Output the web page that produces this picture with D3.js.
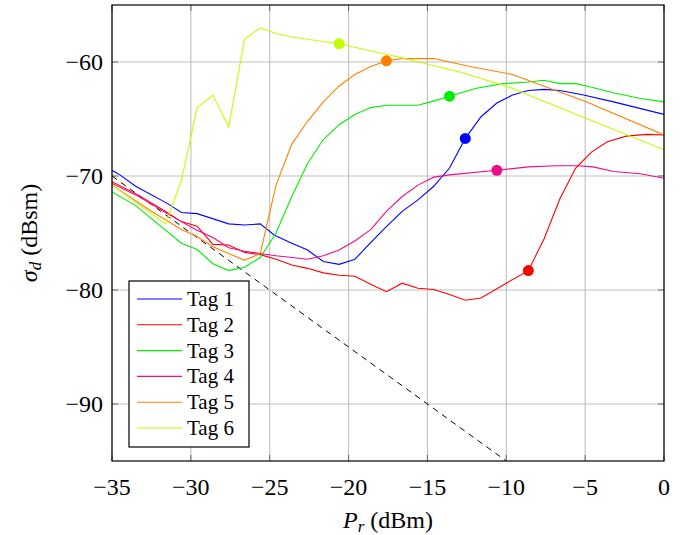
<!DOCTYPE html>
<html>
<head>
<meta charset="utf-8">
<script src="https://cdn.jsdelivr.net/npm/d3@7"></script>
</head>
<body style="margin:0; background:#fff">
<svg id="svg" width="696" height="535"></svg>
<script>
const LEFT = 112, RIGHT = 664, TOP = 5, BOTTOM = 461
const FONT = '"Liberation Serif"'

// measured data, [P_r, sigma_d]
const tag1 = [[-35,-69.5],[-34.5,-69.9],[-33.5,-70.9],[-31.5,-72.4],[-30.6,-73.2],[-29.6,-73.3],[-27.6,-74.2],[-26.6,-74.3],[-25.6,-74.2],[-24.7,-75.2],[-23.6,-75.9],[-22.6,-76.5],[-21.6,-77.5],[-20.6,-77.75],[-19.6,-77.3],[-18.6,-75.85],[-17.6,-74.45],[-16.6,-73.1],[-15.6,-72.1],[-14.6,-70.9],[-13.6,-69.3],[-12.6,-66.7],[-11.6,-64.8],[-10.6,-63.6],[-9.6,-62.9],[-8.6,-62.5],[-7.6,-62.4],[-6.6,-62.5],[-5.1,-62.9],[-3.2,-63.5],[0,-64.6]]
const tag2 = [[-35,-70.5],[-33.3,-71.7],[-31.5,-73.2],[-30.6,-74.0],[-29.6,-74.4],[-28.6,-76.0],[-27.6,-76.05],[-26.6,-76.7],[-25.6,-76.9],[-24.6,-77.3],[-23.6,-77.8],[-22.6,-78.1],[-21.6,-78.5],[-20.6,-78.7],[-19.6,-78.8],[-18.6,-79.5],[-17.6,-80.15],[-16.6,-79.4],[-15.6,-79.85],[-14.6,-79.95],[-13.6,-80.4],[-12.6,-80.9],[-11.6,-80.7],[-10.0,-79.4],[-8.6,-78.3],[-7.6,-75.5],[-6.6,-72.0],[-5.6,-69.3],[-4.6,-67.9],[-3.6,-67.0],[-2.4,-66.5],[-1.1,-66.35],[0,-66.4]]
const tag3 = [[-35,-71.4],[-33.5,-72.6],[-30.6,-75.9],[-29.6,-76.45],[-28.6,-77.7],[-27.6,-78.3],[-26.6,-78.0],[-25.6,-77.15],[-24.6,-75.0],[-23.6,-71.8],[-22.6,-68.9],[-21.6,-66.8],[-20.6,-65.5],[-19.6,-64.6],[-18.6,-64.0],[-17.6,-63.8],[-15.6,-63.8],[-14.8,-63.5],[-13.6,-63.0],[-11.9,-62.3],[-10.2,-61.9],[-8.6,-61.75],[-7.6,-61.6],[-6.6,-61.9],[-5.6,-61.9],[-4.9,-62.1],[-3.2,-62.7],[-1.5,-63.2],[0,-63.5]]
const tag4 = [[-35,-70.65],[-33.3,-71.8],[-31.5,-73.3],[-29.7,-74.7],[-28.6,-75.4],[-27.6,-76.3],[-26.6,-76.6],[-25.6,-76.8],[-24.6,-77.0],[-22.6,-77.3],[-21.6,-77.0],[-20.6,-76.5],[-19.6,-75.7],[-18.6,-74.7],[-17.6,-73.1],[-16.6,-71.8],[-15.6,-70.8],[-14.6,-70.1],[-13.6,-69.9],[-10.6,-69.5],[-8.6,-69.2],[-6.8,-69.1],[-5.5,-69.1],[-4.5,-69.2],[-3.2,-69.6],[-1.5,-69.8],[0,-70.2]]
const tag5 = [[-35,-70.8],[-32.6,-73.0],[-30.6,-74.7],[-29.6,-75.3],[-28.6,-76.2],[-27.6,-76.8],[-26.6,-77.4],[-25.6,-76.8],[-24.6,-70.8],[-23.6,-67.2],[-22.6,-65.2],[-21.6,-63.5],[-20.6,-62.1],[-19.6,-61.1],[-18.6,-60.4],[-17.6,-59.9],[-16.6,-59.7],[-14.6,-59.7],[-12.3,-60.4],[-9.6,-61.1],[-4.9,-63.5],[0,-66.4]]
const tag6 = [[-35,-70.8],[-31.6,-74.2],[-30.6,-70.4],[-29.6,-64.0],[-28.6,-62.9],[-27.6,-65.7],[-26.6,-58.0],[-25.6,-57.0],[-24.6,-57.5],[-23.6,-57.8],[-20.6,-58.4],[-16.7,-59.6],[-12.9,-60.9],[-9.6,-62.3],[-8.6,-62.9],[0,-67.7]]

const tagNames = ['Tag 1', 'Tag 2', 'Tag 3', 'Tag 4', 'Tag 5', 'Tag 6']
const markers = [[-12.6,-66.7],[-8.6,-78.3],[-13.6,-63.0],[-10.6,-69.5],[-17.6,-59.9],[-20.6,-58.4]]
const refLine = [[-35,-70],[-10,-95]]
const xTicks = [-35, -30, -25, -20, -15, -10, -5, 0]
const yTicks = [-90, -80, -70, -60]

const series = [tag1, tag2, tag3, tag4, tag5, tag6]
const colors = ['#0000ff', '#ff0000', '#00ee00', '#ec0c8c', '#ff8000', '#bfff00']

const x = d3.scaleLinear().domain([-35, 0]).range([LEFT, RIGHT])
const y = d3.scaleLinear().domain([-95, -55]).range([BOTTOM, TOP])

const SVG = d3.select('#svg')

SVG.append('clipPath').attr('id', 'plotclip')
  .append('rect')
  .attr('x', LEFT).attr('y', TOP)
  .attr('width', RIGHT - LEFT).attr('height', BOTTOM - TOP)

// grid
SVG.append('g')
  .selectAll('line')
  .data(xTicks)
  .enter()
  .append('line')
  .attr('x1', d => x(d)).attr('x2', d => x(d))
  .attr('y1', TOP).attr('y2', BOTTOM)
  .attr('stroke', '#c0c0c0')
  .attr('stroke-width', 1.1)

SVG.append('g')
  .selectAll('line')
  .data(yTicks)
  .enter()
  .append('line')
  .attr('x1', LEFT).attr('x2', RIGHT)
  .attr('y1', d => y(d)).attr('y2', d => y(d))
  .attr('stroke', '#c0c0c0')
  .attr('stroke-width', 1.1)

// inner tick marks on all four sides
const tickG = SVG.append('g').attr('stroke', '#666')
tickG.selectAll('line.xt')
  .data(xTicks.flatMap(d => [[d, BOTTOM, -6], [d, TOP, 6]]))
  .enter()
  .append('line')
  .attr('x1', d => x(d[0])).attr('x2', d => x(d[0]))
  .attr('y1', d => d[1]).attr('y2', d => d[1] + d[2])
tickG.selectAll('line.yt')
  .data(yTicks.flatMap(d => [[d, LEFT, 6], [d, RIGHT, -6]]))
  .enter()
  .append('line')
  .attr('y1', d => y(d[0])).attr('y2', d => y(d[0]))
  .attr('x1', d => d[1]).attr('x2', d => d[1] + d[2])

const fmt = d => d < 0 ? '\u2212' + Math.abs(d) : String(d)

SVG.selectAll('text.xtick')
  .data(xTicks)
  .enter()
  .append('text')
  .attr('class', 'xtick')
  .attr('x', d => x(d))
  .attr('y', 495)
  .attr('text-anchor', 'middle')
  .style('font-family', FONT)
  .attr('font-size', 24)
  .text(fmt)

SVG.selectAll('text.ytick')
  .data(yTicks)
  .enter()
  .append('text')
  .attr('class', 'ytick')
  .attr('x', 103)
  .attr('y', d => y(d) + 8)
  .attr('text-anchor', 'end')
  .style('font-family', FONT)
  .attr('font-size', 24)
  .text(fmt)

// curves
const line = d3.line().x(d => x(d[0])).y(d => y(d[1]))
const plot = SVG.append('g').attr('clip-path', 'url(#plotclip)')

plot.append('path')
  .attr('d', line(refLine))
  .attr('fill', 'none')
  .attr('stroke', '#000')
  .attr('stroke-width', 1)
  .attr('stroke-dasharray', '6,5')

plot.selectAll('path.tag')
  .data(series)
  .enter()
  .append('path')
  .attr('class', 'tag')
  .attr('d', line)
  .attr('fill', 'none')
  .attr('stroke', (d, i) => colors[i])
  .attr('stroke-width', 1.1)

plot.selectAll('circle')
  .data(markers)
  .enter()
  .append('circle')
  .attr('cx', d => x(d[0]))
  .attr('cy', d => y(d[1]))
  .attr('r', 5.5)
  .attr('fill', (d, i) => colors[i])

// frame
SVG.append('rect')
  .attr('x', LEFT).attr('y', TOP)
  .attr('width', RIGHT - LEFT).attr('height', BOTTOM - TOP)
  .attr('fill', 'none')
  .attr('stroke', '#000')
  .attr('stroke-width', 1.2)

// legend
SVG.append('rect')
  .attr('x', 129).attr('y', 281)
  .attr('width', 120).attr('height', 166)
  .attr('fill', '#fff')
  .attr('stroke', '#000')
  .attr('stroke-width', 1.2)

SVG.selectAll('line.leg')
  .data(tagNames)
  .enter()
  .append('line')
  .attr('class', 'leg')
  .attr('x1', 137).attr('x2', 182)
  .attr('y1', (d, i) => 299 + i * 25.8)
  .attr('y2', (d, i) => 299 + i * 25.8)
  .attr('stroke', (d, i) => colors[i])
  .attr('stroke-width', 1.1)

SVG.selectAll('text.leg')
  .data(tagNames)
  .enter()
  .append('text')
  .attr('class', 'leg')
  .attr('x', 187)
  .attr('y', (d, i) => 306 + i * 25.8)
  .style('font-family', FONT)
  .attr('font-size', 21)
  .text(d => d)

// axis labels
const xl = SVG.append('text')
  .attr('x', 388).attr('y', 528)
  .attr('text-anchor', 'middle')
  .style('font-family', FONT)
  .attr('font-size', 24)
xl.append('tspan').attr('font-style', 'italic').text('P')
xl.append('tspan').attr('font-style', 'italic').attr('font-size', 17).attr('dy', 4).text('r')
xl.append('tspan').attr('dy', -4).text(' (dBm)')

const yl = SVG.append('text')
  .attr('transform', `translate(37, ${(TOP + BOTTOM) / 2}) rotate(-90)`)
  .attr('text-anchor', 'middle')
  .style('font-family', FONT)
  .attr('font-size', 24)
yl.append('tspan').attr('font-style', 'italic').text('\u03c3')
yl.append('tspan').attr('font-style', 'italic').attr('font-size', 17).attr('dy', 4).text('d')
yl.append('tspan').attr('dy', -4).text(' (dBsm)')
</script>
</body>
</html>
